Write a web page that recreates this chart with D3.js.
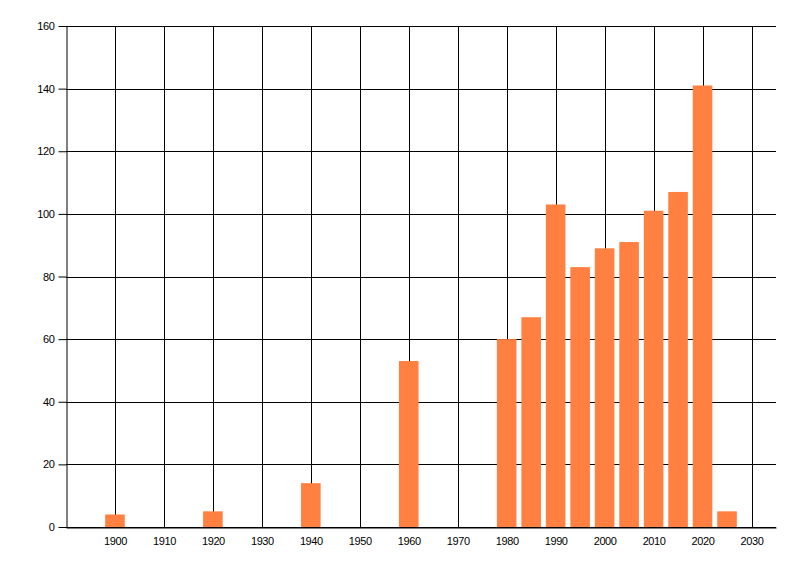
<!DOCTYPE html>
<html>
<head>
<meta charset="utf-8">
<script src="https://cdn.jsdelivr.net/npm/d3@7"></script>
<style>
  body { margin: 0; background: white; }
</style>
</head>
<body>
<div id="chart"></div>
<script>
    // data
    var years = [1900, 1920, 1940, 1960, 1980, 1985, 1990, 1995, 2000, 2005, 2010, 2015, 2020, 2025];
    var counts = [4, 5, 14, 53, 60, 67, 103, 83, 89, 91, 101, 107, 141, 5];
    var xTicks = [1900, 1910, 1920, 1930, 1940, 1950, 1960, 1970, 1980, 1990, 2000, 2010, 2020, 2030];
    var yTicks = [0, 20, 40, 60, 80, 100, 120, 140, 160];

    var barColor = "#ff8040";
    var lineColor = "#000000";
    var labelFont = "Liberation Sans, Arial, sans-serif";

    const margin = { top: 26, right: 24, bottom: 49, left: 66 },
      width = 800 - margin.left - margin.right,
      height = 576 - margin.top - margin.bottom;

    const svg = d3.select("#chart")
      .append("svg")
      .attr("width", 800)
      .attr("height", 576)
      .append("g")
      .attr("transform", `translate(${margin.left},${margin.top})`);

    const x = d3.scaleLinear()
      .domain([1890, 2035])
      .range([0, width]);

    const y = d3.scaleLinear()
      .domain([0, 160])
      .range([height, 0]);

    // horizontal gridlines
    svg.selectAll(".hgrid")
      .data(yTicks)
      .enter()
      .append("line")
      .attr("x1", 0)
      .attr("x2", width)
      .attr("y1", d => Math.round(y(d)) + 0.5)
      .attr("y2", d => Math.round(y(d)) + 0.5)
      .attr("stroke", lineColor)
      .attr("stroke-width", 1);

    // vertical gridlines
    svg.selectAll(".vgrid")
      .data(xTicks)
      .enter()
      .append("line")
      .attr("x1", d => Math.round(x(d)) + 0.5)
      .attr("x2", d => Math.round(x(d)) + 0.5)
      .attr("y1", 0)
      .attr("y2", height)
      .attr("stroke", lineColor)
      .attr("stroke-width", 1);

    // bars, 4 years wide, centred on the year
    var barW = x(1894) - x(1890);
    svg.selectAll(".bar")
      .data(years)
      .enter()
      .append("rect")
      .attr("x", (d) => x(d) - barW / 2)
      .attr("width", barW)
      .attr("y", (d, i) => y(counts[i]))
      .attr("height", (d, i) => height - y(counts[i]))
      .attr("fill", barColor);

    // Y axis
    svg.append("g")
      .attr("transform", "translate(0.5,0)")
      .call(d3.axisLeft(y).tickValues(yTicks).tickSize(8).tickPadding(4).tickSizeOuter(0))
      .call(g => g.select(".domain").attr("stroke", lineColor))
      .call(g => g.selectAll(".tick line").attr("stroke", lineColor))
      .selectAll("text")
      .style("font-family", labelFont)
      .style("font-size", "11px")
      .style("letter-spacing", "-0.4px")
      .attr("fill", "#000");

    // X axis (no tick marks)
    svg.append("g")
      .attr("transform", `translate(0, ${Math.round(height) + 0.5})`)
      .call(d3.axisBottom(x).tickValues(xTicks).tickFormat(d3.format("d")).tickSize(0).tickPadding(10).tickSizeOuter(0))
      .call(g => g.select(".domain").attr("stroke", lineColor))
      .selectAll("text")
      .style("font-family", labelFont)
      .style("font-size", "11px")
      .style("letter-spacing", "-0.4px")
      .attr("fill", "#000");
</script>
</body>
</html>
